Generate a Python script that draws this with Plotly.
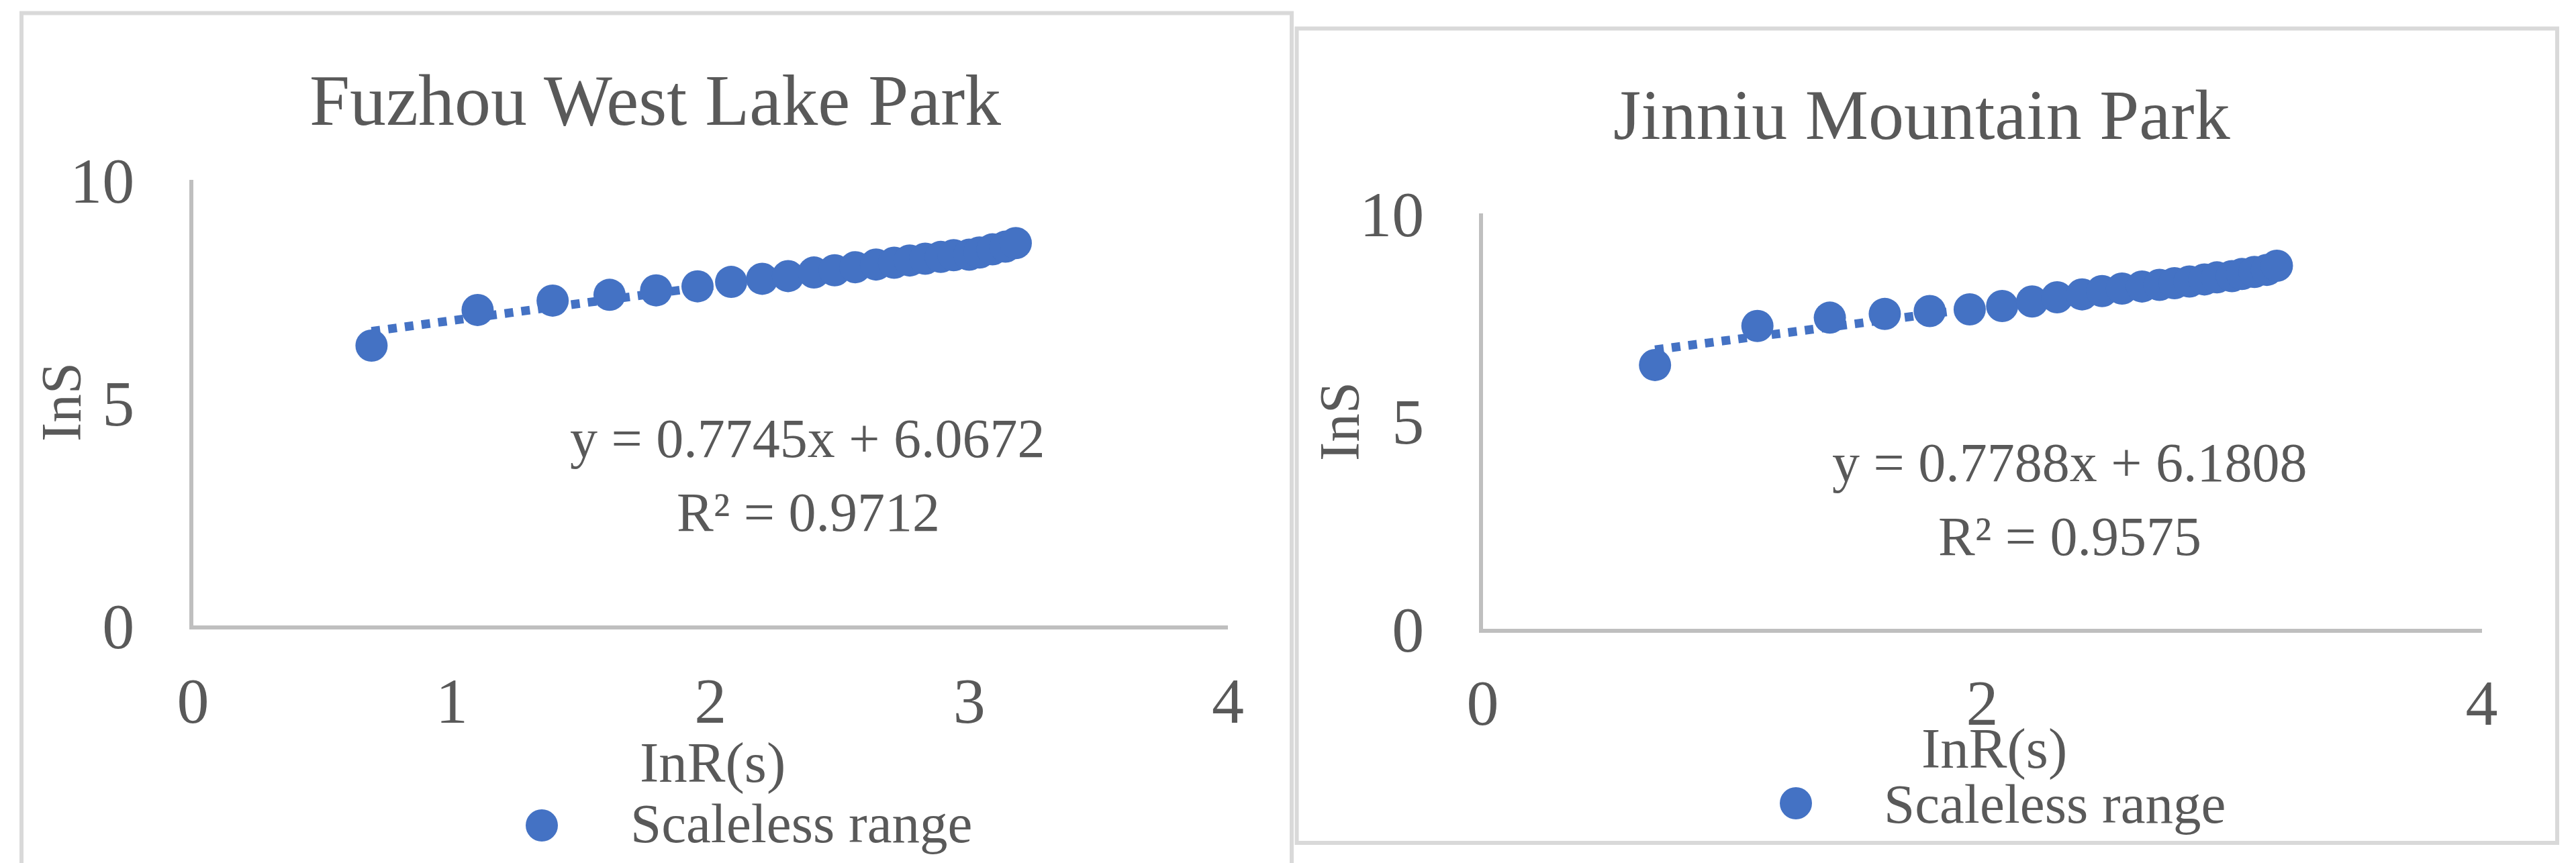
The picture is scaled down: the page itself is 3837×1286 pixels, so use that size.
import plotly.graph_objects as go

W, H = 3837, 1286
OX, OY = 8, 8  # page body margin

# lnR(s) values (same scale steps for both parks)
ln_r = [0.69, 1.10, 1.39, 1.61, 1.79, 1.95, 2.08, 2.20, 2.30, 2.40, 2.48, 2.56,
        2.64, 2.71, 2.77, 2.83, 2.89, 2.94, 3.00, 3.04, 3.09, 3.14, 3.18]

# lnS - Fuzhou West Lake Park
ln_s_fuzhou = [6.28, 7.08, 7.29, 7.42, 7.52, 7.61, 7.71, 7.78, 7.84, 7.92, 7.97, 8.04,
               8.10, 8.14, 8.19, 8.23, 8.27, 8.31, 8.32, 8.37, 8.44, 8.50, 8.58]

# lnS - Jinniu Mountain Park
ln_s_jinniu = [6.35, 7.29, 7.49, 7.58, 7.65, 7.69, 7.77, 7.88, 7.98, 8.05, 8.13, 8.19,
               8.24, 8.28, 8.32, 8.36, 8.41, 8.46, 8.49, 8.54, 8.59, 8.64, 8.74]

titles = ["Fuzhou West Lake Park", "Jinniu Mountain Park"]
slopes = [0.7745, 0.7788]
intercepts = [6.0672, 6.1808]
r2 = [0.9712, 0.9575]

BLUE = "#4472C4"
TXT = "#595959"
FONT = "Liberation Serif"


def px(x):
    return (x - OX) / W


def py(y):
    return 1 - (y - OY) / H


fig = go.Figure()

series = [ln_s_fuzhou, ln_s_jinniu]
for i, ys in enumerate(series):
    xa = "x" if i == 0 else "x2"
    ya = "y" if i == 0 else "y2"
    # linear trendline over the data range
    xt = [ln_r[0], ln_r[-1]]
    yt = [slopes[i] * v + intercepts[i] for v in xt]
    fig.add_trace(go.Scatter(x=xt, y=yt, mode="lines", xaxis=xa, yaxis=ya,
                             line=dict(color=BLUE, width=13, dash="13px,12px"),
                             showlegend=False, hoverinfo="skip"))
    fig.add_trace(go.Scatter(x=ln_r, y=ys, mode="markers", xaxis=xa, yaxis=ya,
                             name="Scaleless range",
                             marker=dict(color=BLUE, size=48, line=dict(width=0)),
                             showlegend=False))

axis_common = dict(showline=True, linecolor="#BFBFBF", linewidth=6, showgrid=False,
                   zeroline=False, ticks="", automargin=False,
                   tickfont=dict(family=FONT, size=96, color=TXT))

fig.update_layout(
    template="none",
    width=W, height=H,
    margin=dict(l=0, r=0, t=0, b=0, pad=0),
    paper_bgcolor="white", plot_bgcolor="white",
    font=dict(family=FONT, color=TXT),
    showlegend=False,
    xaxis=dict(domain=[px(287.5), px(1829)], range=[0, 4], dtick=1, anchor="y",
               ticklabelstandoff=24, **axis_common),
    yaxis=dict(domain=[py(932), py(268)], range=[0, 10], dtick=5, anchor="x",
               ticklabelstandoff=62, **axis_common),
    xaxis2=dict(domain=[px(2208.5), px(3696.5)], range=[0, 4], dtick=2, anchor="y2",
                ticklabelstandoff=22, **axis_common),
    yaxis2=dict(domain=[py(937), py(318)], range=[0, 10], dtick=5, anchor="x2",
                ticklabelstandoff=62, **axis_common),
)

# panel borders
shapes = [
    dict(type="rect", xref="paper", yref="paper", x0=px(32), x1=px(1924), y0=py(1330), y1=py(19.5),
         line=dict(color="#D9D9D9", width=6), layer="below"),
    dict(type="rect", xref="paper", yref="paper", x0=px(1931.5), x1=px(3809), y0=py(1256), y1=py(42.5),
         line=dict(color="#D9D9D9", width=6), layer="below"),
]
# legend markers
for cx, cy in [(807, 1230), (2675, 1197)]:
    shapes.append(dict(type="circle", xref="paper", yref="paper",
                       xsizemode="pixel", ysizemode="pixel", xanchor=px(cx), yanchor=py(cy),
                       x0=-24, x1=24, y0=-24, y1=24, fillcolor=BLUE, line=dict(width=0)))
fig.update_layout(shapes=shapes)


def note(text, x, y, size, **kw):
    d = dict(text=text, x=px(x), y=py(y), xref="paper", yref="paper", showarrow=False,
             font=dict(family=FONT, size=size, color=TXT), xanchor="center", yanchor="middle")
    d.update(kw)
    return d


anns = [
    note(titles[0], 976, 150, 108),
    note(titles[1], 2862, 172, 106),
    note("y = %.4fx + %.4f" % (slopes[0], intercepts[0]), 1203, 653, 82),
    note("R² = %.4f" % r2[0], 1204, 763, 82),
    note("y = %.4fx + %.4f" % (slopes[1], intercepts[1]), 3083, 689, 82),
    note("R² = %.4f" % r2[1], 3083, 800, 82),
    note("InR(s)", 1061, 1136, 85),
    note("InR(s)", 2970, 1115, 85),
    note("InS", 91, 599, 85, textangle=-90),
    note("InS", 1995, 628, 85, textangle=-90),
    note("Scaleless range", 937, 1227, 83, xanchor="left"),
    note("Scaleless range", 2804, 1198, 83, xanchor="left"),
]
fig.update_layout(annotations=anns)

fig.write_html("out.html")
